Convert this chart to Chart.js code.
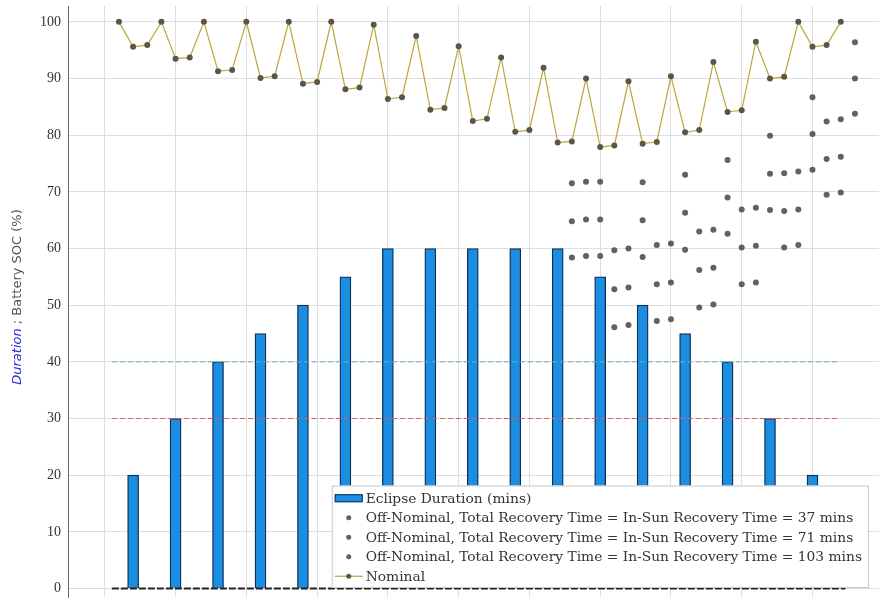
<!DOCTYPE html>
<html>
<head>
<meta charset="utf-8">
<script src="https://cdn.jsdelivr.net/npm/chart.js@4.4.1/dist/chart.umd.min.js"></script>
<style>
    html, body { margin: 0; padding: 0; background: #ffffff; }
    #wrap { width: 883px; height: 601px; }
</style>
</head>
<body>
<div id="wrap"><canvas id="socChart" width="883" height="601"></canvas></div>
<script>
// --- dati (tempo in minuti) ---
const gridTimes = [0, 150, 300, 450, 600, 750, 900, 1050, 1200, 1350, 1500];
const yTicks = [0, 10, 20, 30, 40, 50, 60, 70, 80, 90, 100];

// durata eclissi per orbita
const eclipseTimes = [60, 150, 240, 330, 420, 510, 600, 690, 780, 870, 960, 1050, 1140, 1230, 1320, 1410, 1500];
const eclipseDuration = [20, 30, 40, 45, 50, 55, 60, 60, 60, 60, 60, 55, 50, 45, 40, 30, 20];

// SOC nominale
const nominalTimes = [
    30, 60, 90, 120, 150, 180, 210, 240, 270, 300, 330, 360, 390, 420, 450, 480, 510, 540,
    570, 600, 630, 660, 690, 720, 750, 780, 810, 840, 870, 900, 930, 960, 990, 1020, 1050, 1080,
    1110, 1140, 1170, 1200, 1230, 1260, 1290, 1320, 1350, 1380, 1410, 1440, 1470, 1500, 1530, 1560
];
const nominalSoc = [
    100, 95.6, 95.9, 100, 93.5, 93.7, 100, 91.3, 91.5, 100, 90.1, 90.4,
    100, 89.1, 89.4, 100, 88.1, 88.4, 99.5, 86.4, 86.7, 97.5, 84.5, 84.8,
    95.7, 82.5, 82.9, 93.7, 80.6, 80.9, 91.9, 78.7, 78.9, 90.0, 77.9, 78.2,
    89.5, 78.5, 78.8, 90.4, 80.5, 80.9, 92.9, 84.1, 84.4, 96.5, 90.0, 90.3,
    100, 95.6, 95.9, 100
];

// SOC fuori nominale
const offTimes = [990, 1020, 1050, 1080, 1110, 1140, 1170, 1200, 1230, 1260, 1290, 1320, 1350, 1380, 1410, 1440, 1470, 1500, 1530, 1560, 1590];
const offSoc37 = [71.5, 71.8, 71.8, 59.7, 60.0, 71.7, 60.6, 60.9, 73.0, 63.0, 63.3, 75.6, 66.9, 67.2, 79.9, 73.3, 73.6, 86.7, 82.4, 82.8, 96.4];
const offSoc71 = [64.8, 65.1, 65.1, 52.8, 53.1, 65.0, 53.7, 54.0, 66.3, 56.2, 56.6, 69.0, 60.2, 60.5, 73.2, 66.6, 66.9, 80.2, 75.8, 76.2, 90.0];
const offSoc103 = [58.4, 58.7, 58.7, 46.1, 46.5, 58.5, 47.2, 47.5, 59.8, 49.6, 50.1, 62.6, 53.7, 54.0, 66.8, 60.2, 60.6, 73.9, 69.5, 69.9, 83.8];

// linee di soglia
const limitSpan = [15, 1555];
const zeroSpan = [15, 1570];
const limitHigh = 40;
const limitLow = 30;

// ordine delle voci in legenda
const legendOrder = ['bars', 'off37', 'off71', 'off103', 'nominal'];

function toPoints(xs, ys) {
    return xs.map(function(x, i) { return { x: x, y: ys[i] }; });
}

function flatLine(span, value) {
    return span.map(function(x) { return { x: x, y: value }; });
}

const DOT_COLOR = 'rgba(85, 78, 78, 0.9)';

/**
 * Titolo asse Y a due colori + legenda dentro l'area del grafico
 */
const overlayPlugin = {
    id: 'overlay',
    afterDraw: function(chart) {
        const ctx = chart.ctx;

        // titolo asse Y
        ctx.save();
        ctx.translate(18, 297);
        ctx.rotate(-Math.PI / 2);
        ctx.textBaseline = 'middle';
        const fItalic = 'italic 13px "DejaVu Sans"';
        const fNormal = '13px "DejaVu Sans"';
        const p1 = 'Duration';
        const p2 = ' ; Battery SOC (%)';
        ctx.font = fItalic;
        const w1 = ctx.measureText(p1).width;
        ctx.font = fNormal;
        const w2 = ctx.measureText(p2).width;
        let x0 = -(w1 + w2) / 2;
        ctx.font = fItalic;
        ctx.fillStyle = '#2b2bd6';
        ctx.fillText(p1, x0, 0);
        ctx.font = fNormal;
        ctx.fillStyle = '#555555';
        ctx.fillText(p2, x0 + w1, 0);
        ctx.restore();

        // legenda
        const rows = legendOrder.map(function(key) {
            return chart.data.datasets.find(function(d) { return d.key === key; });
        });
        ctx.save();
        ctx.font = '13.8px "DejaVu Serif"';
        let textW = 0;
        rows.forEach(function(r) { textW = Math.max(textW, ctx.measureText(r.label).width); });
        const rowH = 19.5;
        const right = 869, bottom = 588;
        const width = 34 + textW + 7;
        const height = rows.length * rowH + 5;
        const left = right - width, top = bottom - height;
        ctx.fillStyle = '#ffffff';
        ctx.fillRect(left, top, width, height);
        ctx.strokeStyle = '#c8c8c8';
        ctx.lineWidth = 1;
        ctx.strokeRect(left + 0.5, top + 0.5, width - 1, height - 1);

        rows.forEach(function(r, i) {
            const cy = top + 3 + rowH * (i + 0.5);
            const hx = left + 3;
            if (r.type === 'bar') {
                ctx.fillStyle = r.backgroundColor;
                ctx.fillRect(hx, cy - 4, 28, 8);
                ctx.strokeStyle = r.borderColor;
                ctx.strokeRect(hx + 0.5, cy - 3.5, 27, 7);
            } else if (r.type === 'scatter') {
                ctx.fillStyle = r.pointBackgroundColor;
                ctx.beginPath();
                ctx.arc(hx + 14, cy, 2.5, 0, Math.PI * 2);
                ctx.fill();
            } else {
                ctx.strokeStyle = r.borderColor;
                ctx.lineWidth = 1.2;
                ctx.beginPath();
                ctx.moveTo(hx, cy);
                ctx.lineTo(hx + 28, cy);
                ctx.stroke();
                ctx.fillStyle = r.pointBackgroundColor;
                ctx.beginPath();
                ctx.arc(hx + 14, cy, 2.5, 0, Math.PI * 2);
                ctx.fill();
            }
            ctx.fillStyle = '#333333';
            ctx.textBaseline = 'middle';
            ctx.fillText(r.label, left + 34, cy + 1);
        });
        ctx.restore();
    }
};

function noPadding(scale) {
    scale.paddingTop = 0;
    scale.paddingBottom = 0;
    scale.paddingLeft = 0;
    scale.paddingRight = 0;
}

function initSocChart() {
    const ctx = document.getElementById('socChart').getContext('2d');
    new Chart(ctx, {
        type: 'bar',
        data: {
            datasets: [
                {
                    key: 'nominal',
                    type: 'line',
                    label: 'Nominal',
                    data: toPoints(nominalTimes, nominalSoc),
                    borderColor: '#bda63c',
                    borderWidth: 1.2,
                    pointRadius: 3,
                    pointBackgroundColor: '#5a5749',
                    pointBorderWidth: 0,
                    tension: 0,
                    order: 1
                },
                {
                    key: 'off37',
                    type: 'scatter',
                    label: 'Off-Nominal, Total Recovery Time = In-Sun Recovery Time = 37 mins',
                    data: toPoints(offTimes, offSoc37),
                    pointRadius: 3,
                    pointBackgroundColor: DOT_COLOR,
                    pointBorderWidth: 0,
                    showLine: false,
                    order: 2
                },
                {
                    key: 'off71',
                    type: 'scatter',
                    label: 'Off-Nominal, Total Recovery Time = In-Sun Recovery Time = 71 mins',
                    data: toPoints(offTimes, offSoc71),
                    pointRadius: 3,
                    pointBackgroundColor: DOT_COLOR,
                    pointBorderWidth: 0,
                    showLine: false,
                    order: 2
                },
                {
                    key: 'off103',
                    type: 'scatter',
                    label: 'Off-Nominal, Total Recovery Time = In-Sun Recovery Time = 103 mins',
                    data: toPoints(offTimes, offSoc103),
                    pointRadius: 3,
                    pointBackgroundColor: DOT_COLOR,
                    pointBorderWidth: 0,
                    showLine: false,
                    order: 2
                },
                {
                    type: 'line',
                    data: flatLine(limitSpan, limitHigh),
                    borderColor: '#5fb3b3',
                    borderWidth: 1,
                    borderDash: [5, 3],
                    pointRadius: 0,
                    order: 3
                },
                {
                    type: 'line',
                    data: flatLine(limitSpan, limitLow),
                    borderColor: '#e05a5a',
                    borderWidth: 1,
                    borderDash: [5, 3],
                    pointRadius: 0,
                    order: 3
                },
                {
                    type: 'line',
                    data: flatLine(zeroSpan, 0),
                    borderColor: '#222222',
                    borderWidth: 2,
                    borderDash: [7, 2],
                    pointRadius: 0,
                    order: 3
                },
                {
                    key: 'bars',
                    type: 'bar',
                    label: 'Eclipse Duration (mins)',
                    data: toPoints(eclipseTimes, eclipseDuration),
                    backgroundColor: '#1b8ee2',
                    borderColor: '#0d2f55',
                    borderWidth: 1.3,
                    barThickness: 11,
                    order: 4
                }
            ]
        },
        options: {
            responsive: false,
            animation: false,
            devicePixelRatio: 1,
            layout: { padding: { top: 6, left: 0, right: 0, bottom: 0 } },
            plugins: {
                legend: { display: false },
                tooltip: { enabled: false }
            },
            scales: {
                x: {
                    type: 'linear',
                    offset: false,
                    min: -78,
                    max: 1641,
                    afterBuildTicks: function(scale) {
                        scale.ticks = gridTimes.map(function(v) { return { value: v }; });
                    },
                    afterFit: function(scale) {
                        scale.height = 1;
                        noPadding(scale);
                    },
                    ticks: { display: false },
                    grid: { color: '#dedede', lineWidth: 1, drawTicks: false, offset: false },
                    border: { display: false }
                },
                y: {
                    type: 'linear',
                    min: -1.5,
                    max: 102.8,
                    afterBuildTicks: function(scale) {
                        scale.ticks = yTicks.map(function(v) { return { value: v }; });
                    },
                    afterFit: function(scale) {
                        scale.width = 68;
                        noPadding(scale);
                    },
                    ticks: {
                        padding: 7,
                        color: '#333333',
                        font: { family: '"Liberation Serif"', size: 14 }
                    },
                    grid: { color: '#dedede', lineWidth: 1, drawTicks: false },
                    border: { color: '#666666', width: 1 }
                }
            }
        },
        plugins: [overlayPlugin]
    });
}

document.addEventListener('DOMContentLoaded', initSocChart);
</script>
</body>
</html>
